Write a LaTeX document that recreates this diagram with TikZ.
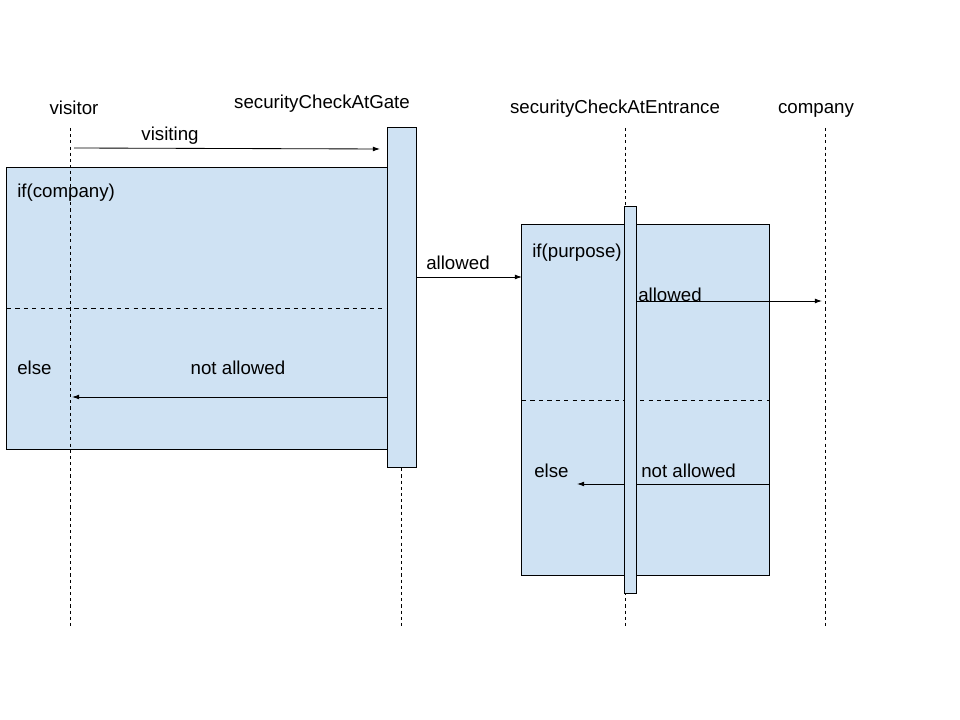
\documentclass[tikz,border=0pt]{standalone}
\usepackage{fontspec}
\setmainfont{Liberation Sans}
\usetikzlibrary{arrows.meta, positioning}
\tikzset{>=latex}
\definecolor{fragblue}{HTML}{CFE2F3}
\tikzset{
  actor/.style={anchor=base, inner sep=0},
  lifeline/.style={line width=0.5pt, dash pattern=on 2.2pt off 2.2pt},
  fragment/.style={rectangle, draw=black, fill=fragblue, line width=0.7pt, inner sep=0, outer sep=0},
  activation/.style={rectangle, draw=black, fill=fragblue, line width=0.7pt, inner sep=0, outer sep=0},
  message/.style={-{Latex[length=5pt,width=3.4pt]}, line width=0.6pt},
  msglabel/.style={anchor=base, inner sep=0},
  guard/.style={anchor=base west, inner sep=0}
}

\begin{document}
\begin{tikzpicture}[
    x=0.025cm, y=-0.025cm,
    every node/.style={font=\fontsize{13.3}{16}\selectfont},
]
\useasboundingbox (0,0) rectangle (960,720);

% Combined fragments
\node[fragment, minimum width=9.5cm, minimum height=7.025cm] (altcompany) at (197,308.5) {};
\node[fragment, minimum width=6.175cm, minimum height=8.75cm] (altpurpose) at (645.5,400) {};
\draw[dashed, line width=0.5pt] (altcompany.west |- 0,308) -- (altcompany.east |- 0,308);
\draw[dashed, line width=0.5pt] (altpurpose.west |- 0,400) -- (altpurpose.east |- 0,400);

% Lifelines
\node[actor] (visitor) at (74,115) {visitor};
\node[actor] (gate) at (322,109) {securityCheckAtGate};
\node[actor] (entrance) at (615,114) {securityCheckAtEntrance};
\node[actor] (company) at (816,114) {company};

\coordinate (visitor-top) at (70,128);
\coordinate (visitor-end) at (70,627);
\coordinate (gate-top) at (401,128);
\coordinate (gate-end) at (401,627);
\coordinate (entrance-top) at (625,128);
\coordinate (entrance-end) at (625,627);
\coordinate (company-top) at (825,128);
\coordinate (company-end) at (825,627);

\draw[lifeline] (visitor-top) -- (visitor-end);
\draw[lifeline] (gate-top) -- (gate-end);
\draw[lifeline] (entrance-top) -- (entrance-end);
\draw[lifeline] (company-top) -- (company-end);

% Messages
\coordinate (visiting-from) at (74,148);
\coordinate (visiting-to) at (380,149);
\coordinate (deny-gate-from) at (387,397);
\coordinate (deny-gate-to) at (72,397);
\coordinate (allow-gate-from) at (416,277);
\coordinate (allow-gate-to) at (522,277);
\coordinate (allow-entr-from) at (636,301);
\coordinate (allow-entr-to) at (822,301);
\coordinate (deny-entr-from) at (769,484);
\coordinate (deny-entr-to) at (577,484);

\draw[message] (visiting-from) -- (visiting-to);
\draw[message] (deny-gate-from) -- (deny-gate-to);
\draw[message] (allow-gate-from) -- (allow-gate-to);
\draw[message] (allow-entr-from) -- (allow-entr-to);
\draw[message] (deny-entr-from) -- (deny-entr-to);

% Activation bars
\node[activation, minimum width=0.725cm, minimum height=8.475cm] (gatebar) at (401.5,297.5) {};
\node[activation, minimum width=0.3cm, minimum height=9.65cm] (entrancebar) at (630,400) {};

% Labels
\node[msglabel] (visiting) at (170,141) {visiting};
\node[msglabel] (deny-gate) at (238,375) {not allowed};
\node[guard] (allow-gate) at (426,270) {allowed};
\node[guard] (allow-entr) at (638,301.5) {allowed};
\node[guard] (deny-entr) at (641,478) {not allowed};

\node[guard] (if-company) at (17,198) {if(company)};
\node[guard] (else-company) at (17,375) {else};
\node[guard] (if-purpose) at (532,258) {if(purpose)};
\node[guard] (else-purpose) at (534,478) {else};

\end{tikzpicture}
\end{document}
